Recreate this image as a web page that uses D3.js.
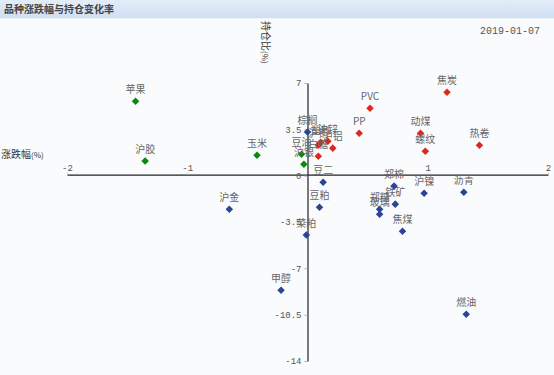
<!DOCTYPE html>
<html>
<head>
<meta charset="utf-8">
<script src="https://cdn.jsdelivr.net/npm/d3@7"></script>
<style>
  body { margin: 0; background: #fafbfd; }
  svg { display: block; font-family: "Noto Sans CJK SC", sans-serif; }
</style>
</head>
<body>
<svg id="chart"></svg>
<script>
// varieties: price change (%) vs open interest change (%)
const names = ["苹果", "沪胶", "玉米", "豆油", "沪银",
  "焦炭", "PVC", "PP", "动煤", "螺纹", "热卷", "沪铜", "塑料", "沪锌", "沪铝", "白糖",
  "棕榈", "豆二", "沪金", "豆粕", "菜粕", "郑棉", "铁矿", "郑糖", "玻璃", "焦煤", "沪镍", "沥青", "甲醇", "燃油"];
const priceChg = [-1.43, -1.35, -0.42, -0.05, -0.03,
  1.16, 0.52, 0.43, 0.94, 0.98, 1.43, 0.09, 0.11, 0.17, 0.21, 0.09,
  0.00, 0.13, -0.65, 0.10, -0.01, 0.72, 0.73, 0.60, 0.60, 0.79, 0.97, 1.30, -0.22, 1.32];
const oiChg = [5.63, 1.10, 1.55, 1.62, 0.87,
  6.31, 5.10, 3.21, 3.21, 1.85, 2.30, 2.30, 2.53, 2.60, 2.08, 1.47,
  3.29, -0.49, -2.53, -2.38, -4.49, -0.79, -2.15, -2.53, -2.91, -4.19, -1.32, -1.25, -8.65, -10.46];
const groups = ["g", "g", "g", "g", "g",
  "r", "r", "r", "r", "r", "r", "r", "r", "r", "r", "r",
  "b", "b", "b", "b", "b", "b", "b", "b", "b", "b", "b", "b", "b", "b"];
const xTicks = [-2, -1, 1, 2];
const yTicks = [7, 3.5, 0, -3.5, -7, -10.5, -14];
const title = "品种涨跌幅与持仓变化率";
const dateText = "2019-01-07";

const width = 554, height = 375;
const data = names.map((n, i) => ({name: n, x: priceChg[i], y: oiChg[i], g: groups[i]}));

const svg = d3.select("#chart").attr("width", width).attr("height", height);

// title bar
const grad = svg.append("defs").append("linearGradient")
  .attr("id", "tb").attr("x1", 0).attr("y1", 0).attr("x2", 0).attr("y2", 1);
grad.append("stop").attr("offset", "0%").attr("stop-color", "#e3edf9");
grad.append("stop").attr("offset", "100%").attr("stop-color", "#cfdff3");
svg.append("rect").attr("width", width).attr("height", 18).attr("fill", "url(#tb)");
svg.append("rect").attr("y", 18).attr("width", width).attr("height", 1).attr("fill", "#eef3fa");
svg.append("text").attr("x", 4).attr("y", 13)
  .attr("font-size", 10).attr("font-weight", "bold").attr("fill", "#444").text(title);

svg.append("text").attr("x", 540).attr("y", 34).attr("text-anchor", "end")
  .attr("font-family", "Liberation Mono").attr("font-size", 10).attr("fill", "#555")
  .text(dateText);

const x = d3.scaleLinear().domain([-2, 2]).range([67, 548]);
const y = d3.scaleLinear().domain([-14, 7]).range([361, 83]);
const color = d3.scaleOrdinal().domain(["g", "r", "b"]).range(["#0a8a0a", "#e2261c", "#2b4495"]);

// x axis through y=0
const xAxis = svg.append("g")
  .attr("transform", `translate(0,${y(0) - 1})`)
  .call(d3.axisTop(x).tickValues(xTicks).tickSize(2).tickSizeOuter(0).tickFormat(d => d));
xAxis.select(".domain").attr("stroke", "#222").attr("stroke-width", 1.2);
xAxis.selectAll(".tick line").attr("stroke", "#ccc");
xAxis.selectAll(".tick text").attr("font-family", "Liberation Mono").attr("font-size", 9)
  .attr("fill", "#555").attr("dy", "0.1em");

// y axis through x=0
const yAxis = svg.append("g")
  .attr("transform", `translate(${x(0)},0)`)
  .call(d3.axisLeft(y).tickValues(yTicks).tickSize(3).tickSizeOuter(0).tickPadding(3)
    .tickFormat(d => d));
yAxis.select(".domain").attr("stroke", "#222").attr("stroke-width", 1.2);
yAxis.selectAll(".tick line").attr("stroke", "#aab");
yAxis.selectAll(".tick text").attr("font-family", "Liberation Mono").attr("font-size", 9)
  .attr("fill", "#555");

// axis titles
svg.append("text").attr("x", 1).attr("y", 158).attr("font-size", 10).attr("fill", "#333")
  .html('涨跌幅<tspan font-size="8">(%)</tspan>');
svg.append("text").attr("transform", "translate(262,21) rotate(90)")
  .attr("font-size", 10).attr("fill", "#333")
  .html('持仓比<tspan font-size="8">(%)</tspan>');

// points
const pts = svg.append("g").selectAll("g").data(data).join("g")
  .attr("transform", d => `translate(${x(d.x)},${y(d.y)})`);
pts.append("path")
  .attr("d", d3.symbol(d3.symbolDiamond2, 36))
  .attr("fill", d => color(d.g));
pts.append("text")
  .attr("y", -8)
  .attr("text-anchor", "middle")
  .attr("font-size", 10)
  .attr("fill", "#666")
  .text(d => d.name);
</script>
</body>
</html>
